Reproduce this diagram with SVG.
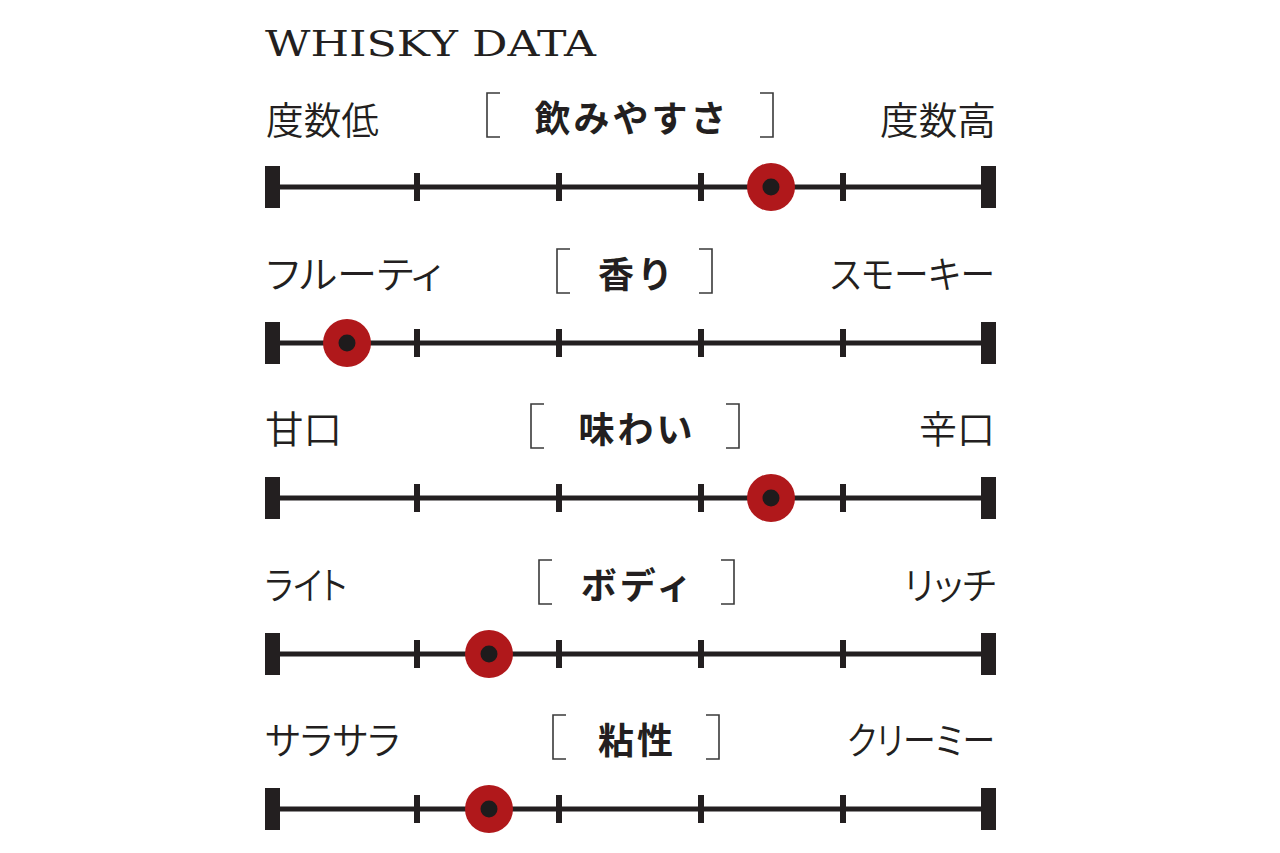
<svg xmlns="http://www.w3.org/2000/svg" width="1280" height="853" viewBox="0 0 1280 853">
<style>
.bg{fill:#ffffff}
.title{font-family:"DejaVu Serif","Liberation Serif",serif;font-size:35px;fill:#231f20}
.lab{font-family:"Noto Sans CJK JP","Noto Sans",sans-serif;font-size:38px;font-weight:350;fill:#231f20;font-feature-settings:"palt"}
.head{font-family:"Noto Sans CJK JP","Noto Sans",sans-serif;font-size:36px;font-weight:bold;fill:#231f20;letter-spacing:3px}
.br{fill:none;stroke:#3a3a3a;stroke-width:1.6}
.axis{stroke:#231f20;stroke-width:5}
.tick{fill:#231f20}
.dot-o{fill:#b0181b}
.dot-i{fill:#1e1b1c}
</style>
<defs>
<g id="scale">
<line class="axis" x1="273" y1="0" x2="988" y2="0"/>
<rect class="tick" x="265" y="-21" width="15" height="42"/>
<rect class="tick" x="981" y="-21" width="15" height="42"/>
<rect class="tick" x="414" y="-14" width="6" height="28"/>
<rect class="tick" x="556" y="-14" width="6" height="28"/>
<rect class="tick" x="698" y="-14" width="6" height="28"/>
<rect class="tick" x="840" y="-14" width="6" height="28"/>
</g>
<g id="marker">
<circle class="dot-o" cx="0" cy="0" r="24"/>
<circle class="dot-i" cx="0" cy="0" r="8.5"/>
</g>
</defs>
<rect class="bg" x="0" y="0" width="1280" height="853"/>
<text id="title" class="title" x="265" y="56" textLength="331" lengthAdjust="spacingAndGlyphs">WHISKY DATA</text>

<g id="row1" transform="translate(0,187)">
<text class="lab" x="266" y="-53" textLength="113" lengthAdjust="spacingAndGlyphs">度数低</text>
<text class="lab" x="996" y="-53" text-anchor="end" textLength="116" lengthAdjust="spacingAndGlyphs">度数高</text>
<path class="br" d="M500,-94 H487 V-50 H500"/>
<path class="br" d="M760,-94 H773 V-50 H760"/>
<text class="head" x="632" y="-55" text-anchor="middle">飲みやすさ</text>
<use href="#scale"/>
<use href="#marker" x="771" y="0"/>
</g>

<g id="row2" transform="translate(0,343)">
<text class="lab" x="266" y="-55" textLength="176" lengthAdjust="spacingAndGlyphs">フルーティ</text>
<text class="lab" x="995" y="-55" text-anchor="end" textLength="165" lengthAdjust="spacingAndGlyphs">スモーキー</text>
<path class="br" d="M570,-94 H557 V-50 H570"/>
<path class="br" d="M699,-94 H712 V-50 H699"/>
<text class="head" x="637" y="-55" text-anchor="middle">香り</text>
<use href="#scale"/>
<use href="#marker" x="347" y="0"/>
</g>

<g id="row3" transform="translate(0,498)">
<text class="lab" x="265" y="-55" textLength="77" lengthAdjust="spacingAndGlyphs">甘口</text>
<text class="lab" x="995" y="-55" text-anchor="end" textLength="76" lengthAdjust="spacingAndGlyphs">辛口</text>
<path class="br" d="M544,-94 H531 V-50 H544"/>
<path class="br" d="M726,-94 H739 V-50 H726"/>
<text class="head" x="637" y="-55" text-anchor="middle">味わい</text>
<use href="#scale"/>
<use href="#marker" x="771" y="0"/>
</g>

<g id="row4" transform="translate(0,654)">
<text class="lab" x="265" y="-55" textLength="82" lengthAdjust="spacingAndGlyphs">ライト</text>
<text class="lab" x="996" y="-55" text-anchor="end" textLength="92" lengthAdjust="spacingAndGlyphs">リッチ</text>
<path class="br" d="M552,-94 H539 V-50 H552"/>
<path class="br" d="M721,-94 H734 V-50 H721"/>
<text class="head" x="638" y="-55" text-anchor="middle">ボディ</text>
<use href="#scale"/>
<use href="#marker" x="489" y="0"/>
</g>

<g id="row5" transform="translate(0,809)">
<text class="lab" x="265" y="-55" textLength="135" lengthAdjust="spacingAndGlyphs">サラサラ</text>
<text class="lab" x="995" y="-55" text-anchor="end" textLength="148" lengthAdjust="spacingAndGlyphs">クリーミー</text>
<path class="br" d="M566,-94 H553 V-50 H566"/>
<path class="br" d="M706,-94 H719 V-50 H706"/>
<text class="head" x="637" y="-55" text-anchor="middle">粘性</text>
<use href="#scale"/>
<use href="#marker" x="489" y="0"/>
</g>
</svg>
